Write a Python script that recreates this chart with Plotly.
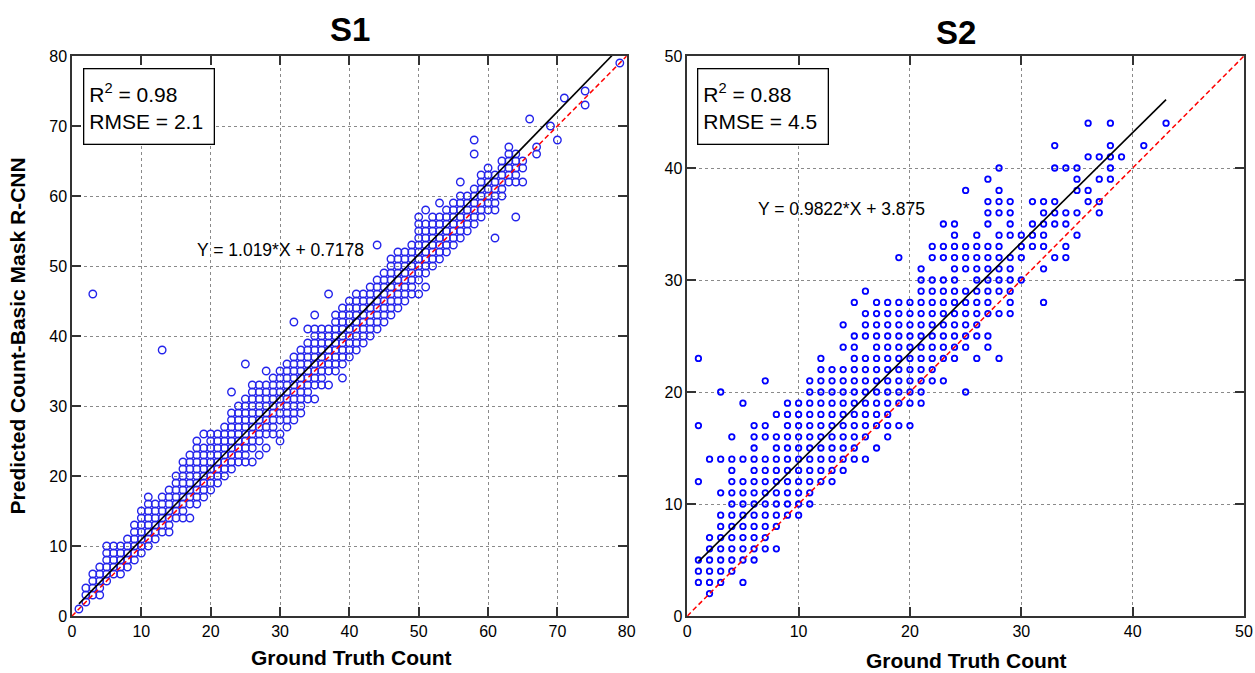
import plotly.graph_objects as go
from plotly.subplots import make_subplots

# ---------------- DATA ----------------
# S1: ground-truth count -> list of predicted counts observed at that count
s1_gt = [1, 2, 3, 4, 5, 6, 7, 8, 9, 10, 11, 12, 13, 14, 15, 16, 17, 18, 19, 20,
         21, 22, 23, 24, 25, 26, 27, 28, 29, 30, 31, 32, 33, 34, 35, 36, 37, 38, 39, 40,
         41, 42, 43, 44, 45, 46, 47, 48, 49, 50, 51, 52, 53, 54, 55, 56, 57, 58, 59, 60,
         61, 62, 63, 64, 65, 66, 67, 69, 70, 71, 74, 79]
s1_pred = [
    [1],
    [2, 3, 4],
    [3, 4, 5, 6, 46],
    [3, 4, 5, 6, 7],
    [5, 6, 7, 8, 9, 10],
    [6, 7, 8, 9, 10],
    [6, 7, 8, 9, 10],
    [7, 8, 9, 10, 11],
    [8, 9, 10, 11, 12, 13],
    [9, 10, 11, 12, 13, 14, 15],
    [10, 11, 12, 13, 14, 15, 16, 17],
    [11, 12, 13, 14, 15, 16],
    [12, 13, 14, 15, 16, 17, 38],
    [12, 13, 14, 15, 16, 17, 18],
    [14, 15, 16, 17, 18, 19, 20],
    [14, 15, 16, 17, 18, 19, 20, 21, 22],
    [14, 16, 17, 18, 19, 20, 21, 22, 23],
    [16, 17, 18, 19, 20, 21, 22, 23, 24, 25],
    [17, 18, 19, 20, 21, 22, 23, 24, 26],
    [18, 19, 20, 21, 22, 23, 24, 25, 26],
    [19, 20, 21, 22, 23, 24, 25, 26],
    [20, 21, 22, 23, 24, 25, 26, 27],
    [21, 22, 23, 24, 25, 26, 27, 28, 29, 32],
    [22, 23, 24, 25, 26, 27, 28, 29, 30],
    [22, 23, 24, 25, 26, 27, 28, 29, 30, 31, 36],
    [22, 24, 25, 26, 27, 28, 29, 30, 31, 32, 33],
    [23, 25, 26, 27, 28, 29, 30, 31, 32, 33],
    [24, 26, 27, 28, 29, 30, 31, 32, 33, 35],
    [26, 27, 28, 29, 30, 31, 32, 33, 34],
    [25, 26, 28, 29, 30, 31, 32, 33, 34, 35],
    [27, 28, 29, 30, 31, 32, 33, 34, 35, 36],
    [28, 29, 30, 31, 32, 33, 34, 35, 36, 37, 42],
    [29, 30, 31, 32, 33, 34, 35, 36, 37, 38],
    [31, 32, 33, 34, 35, 36, 37, 38, 39, 41],
    [31, 33, 34, 35, 36, 37, 38, 39, 40, 41, 43],
    [33, 34, 35, 36, 37, 38, 39, 40, 41],
    [33, 35, 36, 37, 38, 39, 40, 41, 46],
    [35, 36, 37, 38, 39, 40, 41, 42, 43],
    [34, 36, 37, 38, 39, 40, 41, 42, 43, 44],
    [37, 38, 39, 40, 41, 42, 43, 44, 45],
    [38, 39, 40, 41, 42, 43, 44, 45, 46],
    [39, 40, 41, 42, 43, 44, 45, 46],
    [40, 41, 42, 43, 44, 45, 46, 47],
    [41, 42, 43, 44, 45, 46, 47, 48, 53],
    [42, 43, 44, 45, 46, 47, 48, 49],
    [43, 44, 45, 46, 47, 48, 49, 50, 51],
    [44, 45, 46, 47, 48, 49, 50, 51, 52],
    [45, 46, 47, 48, 49, 50, 51, 52],
    [46, 47, 48, 49, 50, 51, 52, 53],
    [46, 48, 49, 50, 51, 52, 53, 54, 55, 56, 57],
    [47, 49, 50, 51, 52, 53, 54, 55, 56, 58],
    [50, 51, 52, 53, 54, 55, 56, 57],
    [51, 52, 53, 54, 55, 56, 57, 59],
    [52, 53, 54, 55, 56, 57, 58],
    [53, 54, 55, 56, 57, 58, 59],
    [54, 55, 56, 57, 58, 59, 60, 62],
    [55, 56, 57, 58, 59, 60],
    [56, 57, 58, 59, 60, 61, 66, 68],
    [57, 58, 59, 60, 61, 62, 63],
    [58, 59, 60, 61, 62, 63, 64],
    [54, 58, 59, 60, 61, 62, 63],
    [60, 61, 62, 63, 64, 65],
    [62, 63, 64, 65, 66, 67],
    [57, 62, 63, 64, 65, 66],
    [62, 64, 65],
    [71],
    [66, 67],
    [70],
    [68],
    [74],
    [73, 75],
    [79],
]

# S2: predicted count -> list of ground-truth counts observed at that prediction
s2_pred = [2, 3, 4, 5, 6, 7, 8, 9, 10, 11, 12, 13, 14, 15, 16, 17, 18, 19, 20, 21,
           22, 23, 24, 25, 26, 27, 28, 29, 30, 31, 32, 33, 34, 35, 36, 37, 38, 39, 40,
           41, 42, 44]
s2_gt = [
    [2],
    [1, 2, 3, 5],
    [1, 2, 3, 4],
    [1, 2, 3, 4, 5, 6],
    [2, 3, 4, 5, 6, 7, 8],
    [2, 3, 4, 5, 6, 7],
    [3, 4, 5, 6, 7, 8],
    [3, 4, 5, 6, 7, 8, 9, 10],
    [4, 5, 6, 7, 8, 9, 10, 11],
    [3, 4, 5, 6, 7, 8, 9, 10, 11],
    [1, 4, 5, 6, 7, 8, 9, 10, 11, 12, 13],
    [4, 6, 7, 8, 9, 10, 11, 12, 13, 14],
    [2, 3, 4, 5, 6, 7, 8, 9, 10, 11, 12, 13, 14, 15, 16],
    [6, 8, 9, 10, 11, 12, 13, 14, 15, 17],
    [4, 6, 7, 8, 9, 10, 11, 12, 13, 14, 15, 16, 18],
    [1, 6, 7, 9, 10, 11, 12, 13, 14, 15, 16, 17, 18, 19, 20],
    [8, 9, 10, 11, 12, 13, 14, 15, 16, 17, 18],
    [5, 9, 10, 11, 12, 13, 14, 15, 16, 17, 18, 19, 20, 21],
    [3, 11, 12, 13, 14, 15, 16, 17, 18, 19, 20, 21, 25],
    [7, 11, 12, 13, 14, 15, 16, 17, 18, 19, 20, 21, 22, 23],
    [12, 13, 14, 15, 16, 17, 18, 19, 20, 21, 22],
    [1, 12, 15, 16, 17, 18, 19, 20, 21, 22, 23, 24, 26, 28],
    [14, 15, 17, 18, 19, 20, 21, 22, 23, 24, 25, 27],
    [15, 16, 17, 18, 19, 20, 21, 22, 23, 24, 25, 26, 27],
    [14, 16, 17, 18, 19, 20, 21, 22, 23, 24, 25, 26],
    [16, 17, 18, 19, 20, 21, 22, 23, 24, 25, 26, 27, 28, 29],
    [15, 17, 18, 19, 20, 21, 22, 23, 24, 25, 26, 27, 29, 32],
    [16, 21, 22, 23, 24, 25, 26, 27, 28, 29],
    [21, 22, 23, 24, 26, 27, 28, 29, 30],
    [21, 24, 25, 26, 27, 28, 29, 32],
    [19, 22, 23, 24, 25, 26, 27, 28, 29, 30, 33, 34],
    [22, 23, 24, 25, 26, 27, 28, 30, 31, 32, 34],
    [24, 26, 28, 29, 30, 31, 32, 35],
    [23, 24, 27, 29, 31, 32, 33, 34],
    [27, 28, 29, 32, 33, 34, 35, 37],
    [27, 28, 29, 31, 32, 33, 36, 37],
    [25, 28, 35, 36],
    [27, 35, 37, 38],
    [28, 33, 34, 35, 38],
    [36, 37, 38, 39],
    [33, 38, 41],
    [36, 38, 43],
]

# fitted lines (slope, intercept) and x-extent of the fit
s1_fit = (1.019, 0.7178)
s1_fit_x = [1, 79]
s2_fit = (0.9822, 3.875)
s2_fit_x = [1, 43]
s1_identity = [0, 80]
s2_identity = [0, 50]

s1_stats = ("0.98", "2.1")
s2_stats = ("0.88", "4.5")
s1_eq = "Y = 1.019*X + 0.7178"
s2_eq = "Y = 0.9822*X + 3.875"

# ---------------- BUILD ----------------
x1, y1 = [], []
for g, preds in zip(s1_gt, s1_pred):
    for p in preds:
        x1.append(g)
        y1.append(p)

x2, y2 = [], []
for p, gts in zip(s2_pred, s2_gt):
    for g in gts:
        x2.append(g)
        y2.append(p)

W, H = 1255, 673
ML, MR, MT, MB = 72, 2, 56, 57
PW = W - ML - MR
PH = H - MT - MB


def px(xp):
    return (xp - ML) / PW


def py(yp):
    return (H - MB - yp) / PH


fig = make_subplots(rows=1, cols=2)

fig.add_trace(go.Scatter(
    x=x1, y=y1, mode="markers",
    marker=dict(symbol="circle-open", size=7.5, color="rgb(35,35,235)",
                line=dict(width=1.35, color="rgb(35,35,235)")),
    showlegend=False, cliponaxis=False), row=1, col=1)
fig.add_trace(go.Scatter(
    x=s1_identity, y=s1_identity, mode="lines",
    line=dict(color="red", width=1.5, dash="5px,3px"), showlegend=False), row=1, col=1)
fig.add_trace(go.Scatter(
    x=s1_fit_x, y=[s1_fit[0] * v + s1_fit[1] for v in s1_fit_x], mode="lines",
    line=dict(color="black", width=1.6), showlegend=False), row=1, col=1)

fig.add_trace(go.Scatter(
    x=x2, y=y2, mode="markers",
    marker=dict(symbol="circle-open", size=5.5, color="blue",
                line=dict(width=1.8, color="blue")),
    showlegend=False), row=1, col=2)
fig.add_trace(go.Scatter(
    x=s2_identity, y=s2_identity, mode="lines",
    line=dict(color="red", width=1.5, dash="5px,3px"), showlegend=False), row=1, col=2)
fig.add_trace(go.Scatter(
    x=s2_fit_x, y=[s2_fit[0] * v + s2_fit[1] for v in s2_fit_x], mode="lines",
    line=dict(color="black", width=1.6), showlegend=False), row=1, col=2)

axis_common = dict(
    showline=True, linecolor="#333", linewidth=1.5, mirror="ticks",
    ticks="inside", ticklen=9, tickwidth=1.5, tickcolor="#333",
    showgrid=True, gridcolor="#8a8a8a", gridwidth=1, griddash="dot",
    zeroline=False, dtick=10,
    tickfont=dict(family="Arial, Liberation Sans, sans-serif", size=16, color="black"),
)

fig.update_xaxes(axis_common)
fig.update_yaxes(axis_common)
fig.update_xaxes(range=[0, 80], domain=[0, px(631)], row=1, col=1)
fig.update_yaxes(range=[0, 80], domain=[0, 1], row=1, col=1)
fig.update_xaxes(range=[0, 50], domain=[px(692), px(1253)], row=1, col=2)
fig.update_yaxes(range=[0, 50], domain=[0, 1], row=1, col=2)

F = "Arial, Liberation Sans, sans-serif"
C = dict(xref="paper", yref="paper", showarrow=False, xanchor="center", yanchor="middle")
ann = []
ann.append(dict(text="<b>S1</b>", x=px(352), y=py(30),
                font=dict(family=F, size=33, color="black"), **C))
ann.append(dict(text="<b>S2</b>", x=px(963), y=py(33),
                font=dict(family=F, size=33, color="black"), **C))
ann.append(dict(text="<b>Ground Truth Count</b>", x=px(353.5), y=py(657),
                font=dict(family=F, size=21, color="black"), **C))
ann.append(dict(text="<b>Ground Truth Count</b>", x=px(973), y=py(660),
                font=dict(family=F, size=21, color="black"), **C))
ann.append(dict(text="<b>Predicted Count-Basic Mask R-CNN</b>", x=px(17), y=py(336),
                textangle=-90, font=dict(family=F, size=21, color="black"), **C))

for (xb, yb, stats) in [(px(83), py(68), s1_stats), (px(702), py(68), s2_stats)]:
    ann.append(dict(text=f"R<sup>2</sup> = {stats[0]}<br>RMSE = {stats[1]}",
                    x=xb, y=yb, xref="paper", yref="paper", xanchor="left", yanchor="top",
                    showarrow=False, align="left", valign="middle",
                    width=119, height=64, borderpad=5, bordercolor="black",
                    borderwidth=1.3, bgcolor="white",
                    font=dict(family=F, size=21, color="black")))

ann.append(dict(text=s1_eq, x=px(282), y=py(250),
                font=dict(family=F, size=17.5, color="black"), **C))
ann.append(dict(text=s2_eq, x=px(847), y=py(209),
                font=dict(family=F, size=17.5, color="black"), **C))

fig.update_layout(
    width=W, height=H, autosize=False,
    margin=dict(l=ML, r=MR, t=MT, b=MB),
    paper_bgcolor="white", plot_bgcolor="white",
    annotations=ann,
    font=dict(family=F, color="black"),
)

fig.write_html("out.html", config={"displayModeBar": False},
               post_script="document.body.style.margin='0';")
